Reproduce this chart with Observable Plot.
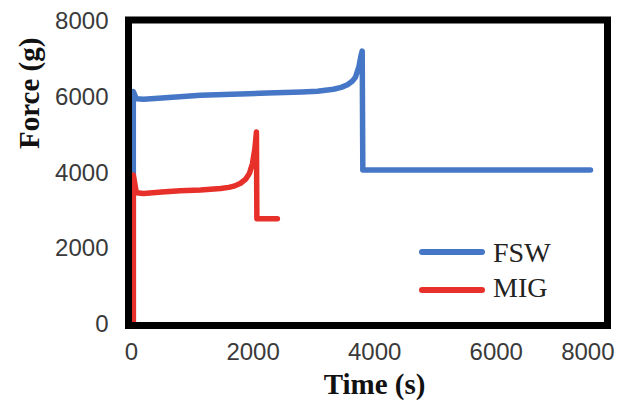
<!DOCTYPE html>
<html><head><meta charset="utf-8">
<script src="https://cdn.jsdelivr.net/npm/d3@7"></script>
<script src="https://cdn.jsdelivr.net/npm/@observablehq/plot@0.6"></script>
<style>
body{margin:0;background:#fff;}
#wrap{position:relative;width:628px;height:412px;}
#legend{position:absolute;left:0;top:0;pointer-events:none;}
</style></head><body><div id="wrap"></div>
<script>
// ---- data ----
const seriesNames = ["FSW", "MIG"];
const fswTime  = [30, 30, 80, 200, 500, 1135, 2237, 2800, 3059, 3322, 3450, 3553, 3630, 3684, 3740, 3775, 3795, 3805, 7550];
const fswForce = [0, 6150, 5960, 5950, 5980, 6050, 6110, 6140, 6160, 6210, 6260, 6330, 6420, 6530, 6800, 7100, 7220, 4080, 4080];
const migTime  = [30, 30, 80, 200, 500, 800, 1135, 1464, 1600, 1700, 1793, 1880, 1940, 1990, 2030, 2055, 2062, 2400];
const migForce = [0, 3950, 3480, 3460, 3500, 3530, 3550, 3590, 3620, 3660, 3730, 3840, 3990, 4250, 4650, 5080, 2790, 2790];
const xTicks = [0, 2000, 4000, 6000, 8000];
const yTicks = [0, 2000, 4000, 6000, 8000];
const xTitle = "Time (s)";
const yTitle = "Force (g)";

// ---- styles ----
const colors = {FSW: "#4677c6", MIG: "#e8302a"};
const tickFont = {fontSize: 24, fontFamily: "Liberation Sans, Arial, sans-serif", fill: "#3a3a3a", tickFormat: d3.format("d")};
const titleFont = {fontSize: 29, fontWeight: "bold", fontFamily: "Liberation Serif, 'Times New Roman', serif", fill: "#111"};

const fsw = fswTime.map((t, i) => ({t, f: fswForce[i]}));
const mig = migTime.map((t, i) => ({t, f: migForce[i]}));

const lineStyle = {x: "t", y: "f", strokeWidth: 5.5, strokeLinejoin: "round", strokeLinecap: "round"};

const chart = Plot.plot({
  width: 628, height: 412,
  marginLeft: 131, marginRight: 21, marginTop: 21, marginBottom: 88,
  x: {domain: [0, 7830]},
  y: {domain: [0, 8000]},
  marks: [
    Plot.line(fsw, {...lineStyle, stroke: colors.FSW}),
    Plot.line(mig, {...lineStyle, stroke: colors.MIG}),
    Plot.frame({stroke: "black", strokeWidth: 7, insetLeft: -3, insetTop: -1.5, insetBottom: -1}),
    Plot.axisY({ticks: yTicks, tickSize: 0, tickPadding: 23, label: null, ...tickFont}),
    Plot.axisX({ticks: xTicks.slice(0, 4), tickSize: 0, tickPadding: 18, label: null, ...tickFont}),
    Plot.axisX({ticks: xTicks.slice(4), tickSize: 0, tickPadding: 18, label: null, dx: -30, ...tickFont}),
    Plot.text([xTitle], {text: d => d, frameAnchor: "bottom", dx: 5, dy: 69, ...titleFont}),
    Plot.text([yTitle], {text: d => d, frameAnchor: "left", rotate: -90, dx: -102, dy: -24, ...titleFont})
  ]
});
const wrap = document.getElementById("wrap");
wrap.appendChild(chart);

// ---- legend overlay ----
const leg = d3.select(wrap).append("svg").attr("id", "legend").attr("width", 628).attr("height", 412);
const rows = leg.selectAll("g").data(seriesNames).join("g")
  .attr("transform", (d, i) => `translate(422,${252 + i * 38})`);
rows.append("line").attr("x1", 0).attr("x2", 60).attr("y1", 0).attr("y2", 0)
  .attr("stroke", d => colors[d]).attr("stroke-width", 6).attr("stroke-linecap", "round");
rows.append("text").attr("x", 71).attr("y", (d, i) => 10 - i * 3)
  .attr("font-family", "Liberation Serif, 'Times New Roman', serif").attr("font-size", 28)
  .attr("fill", "#222").text(d => d);
</script></body></html>
